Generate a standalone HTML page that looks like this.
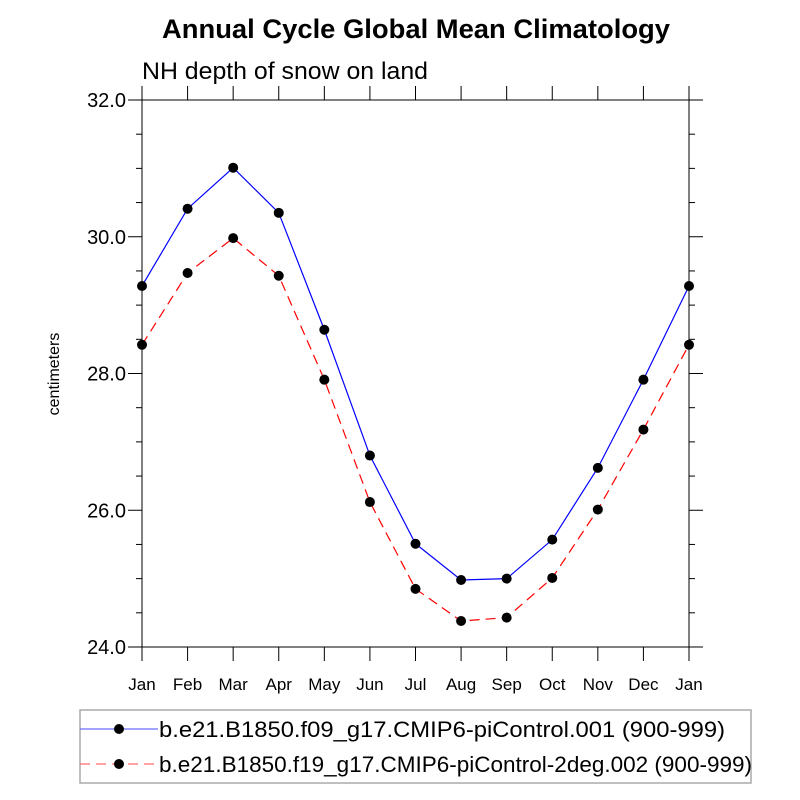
<!DOCTYPE html>
<html><head><meta charset="utf-8"><style>body{margin:0;background:#fff}svg{display:block;font-family:"Liberation Sans",sans-serif}</style></head>
<body>
<svg id="chart" width="800" height="800">
<text x="162" y="38" font-size="27" font-weight="bold" textLength="508" lengthAdjust="spacingAndGlyphs">Annual Cycle Global Mean Climatology</text>
<text x="142" y="79" font-size="24" textLength="286" lengthAdjust="spacingAndGlyphs">NH depth of snow on land</text>
<text transform="translate(59,374) rotate(-90)" text-anchor="middle" font-size="16">centimeters</text>
<g id="axes"></g>
<g id="series"></g>
<g>
<rect x="80" y="710" width="671" height="73" fill="none" stroke="#aaa" stroke-width="1.5"/>
<line x1="80" y1="729" x2="158" y2="729" stroke="#6a6aff" stroke-width="1.2"/>
<circle cx="119" cy="729" r="5" fill="#000"/>
<text x="159" y="737" font-size="22" textLength="566" lengthAdjust="spacingAndGlyphs">b.e21.B1850.f09_g17.CMIP6-piControl.001 (900-999)</text>
<line x1="80" y1="764" x2="158" y2="764" stroke="#ff6a6a" stroke-width="1.2" stroke-dasharray="10,6"/>
<circle cx="119" cy="764" r="5" fill="#000"/>
<text x="159" y="772" font-size="22" textLength="593" lengthAdjust="spacingAndGlyphs">b.e21.B1850.f19_g17.CMIP6-piControl-2deg.002 (900-999)</text>
</g>
</svg>
<script>
const months=["Jan","Feb","Mar","Apr","May","Jun","Jul","Aug","Sep","Oct","Nov","Dec","Jan"];
const seriesF09=[29.28,30.41,31.01,30.35,28.64,26.80,25.51,24.98,25.00,25.57,26.62,27.91,29.28];
const seriesF19=[28.42,29.47,29.98,29.43,27.91,26.12,24.85,24.38,24.43,25.01,26.01,27.18,28.42];
const yTicks=[24,26,28,30,32];
const yTickLabels=["24.0","26.0","28.0","30.0","32.0"];
const yMin=24,yMax=32,L=142,R=689,T=100,B=647;
const NS="http://www.w3.org/2000/svg";
function X(i){return L+(R-L)*i/(months.length-1);}
function Y(v){return B-(v-yMin)/(yMax-yMin)*(B-T);}
function mk(tag,attrs,parent){const e=document.createElementNS(NS,tag);for(const k in attrs)e.setAttribute(k,attrs[k]);parent.appendChild(e);return e;}
const ax=document.getElementById('axes');
let r=mk('rect',{x:L,y:T,width:R-L,height:B-T,fill:'none',stroke:'#000','stroke-width':1},ax);


for(let v=yMin;v<=yMax+1e-6;v+=0.5){
  const maj=Math.abs(v-Math.round(v/2)*2)<1e-6;const len=maj?14:6;
  let a=mk('line',{x1:L-len,x2:L,y1:Y(v),y2:Y(v),stroke:'#000'},ax);
  
  
  let b=mk('line',{x1:R,x2:R+len,y1:Y(v),y2:Y(v),stroke:'#000'},ax);
  
  
}
yTicks.forEach((v,i)=>{
  let t=mk('text',{x:L-16,y:Y(v)+7,'text-anchor':'end','font-size':20},ax);t.textContent=yTickLabels[i];
  
  
});
months.forEach((m,i)=>{
  let a=mk('line',{x1:X(i),x2:X(i),y1:B,y2:B+14,stroke:'#000'},ax);
  
  
  let b=mk('line',{x1:X(i),x2:X(i),y1:T-14,y2:T,stroke:'#000'},ax);
  
  
  let t=mk('text',{x:X(i),y:B+43,'text-anchor':'middle','font-size':17},ax);t.textContent=m;
  
  
});
const sg=document.getElementById('series');
function draw(vals,color,dash,name){
  const p=mk('polyline',{points:vals.map((v,i)=>X(i)+','+Y(v)).join(' '),fill:'none',stroke:color,'stroke-width':1.2,'stroke-dasharray':dash},sg);
  
  
  vals.forEach((v,i)=>{const c=mk('circle',{cx:X(i),cy:Y(v),r:5,fill:'#000'},sg);
    
    });
}
draw(seriesF09,'#0000ff','none','f09-series');
draw(seriesF19,'#ff0000','10,6','f19-series');
</script>
</body></html>
